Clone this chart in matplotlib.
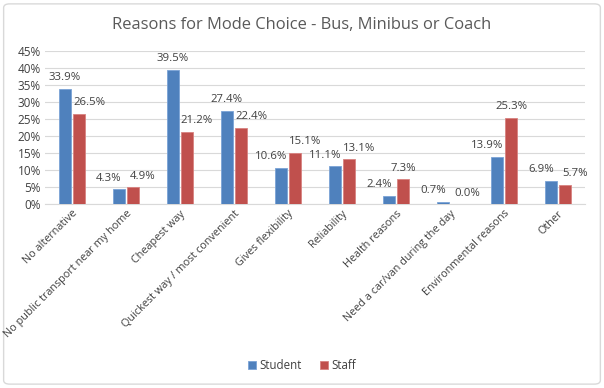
import matplotlib.pyplot as plt
import numpy as np
from matplotlib.patches import FancyBboxPatch

categories = ["No alternative", "No public transport near my home", "Cheapest way",
              "Quickest way / most convenient", "Gives flexibility", "Reliability",
              "Health reasons", "Need a car/van during the day", "Environmental reasons", "Other"]
student = [33.9, 4.3, 39.5, 27.4, 10.6, 11.1, 2.4, 0.7, 13.9, 6.9]
staff = [26.5, 4.9, 21.2, 22.4, 15.1, 13.1, 7.3, 0.0, 25.3, 5.7]

plt.rcParams['font.family'] = ['Open Sans', 'DejaVu Sans']
txt = '#404040'

fig = plt.figure(figsize=(6.04, 3.88), dpi=100)
fig.patches.append(FancyBboxPatch((0.006, 0.01), 0.988, 0.98, boxstyle="round,pad=0,rounding_size=0.01",
                                  transform=fig.transFigure, fc='white', ec='#d9d9d9', lw=1, zorder=-5))
ax = fig.add_axes([0.0745, 0.474, 0.894, 0.395])
ax.patch.set_alpha(0)

x = np.arange(len(categories))
w = 0.222
gap = 0.05
b1 = ax.bar(x - w / 2 - gap / 2, student, w, color='#4f81bd', edgecolor='#7aa3d6', lw=0.6, label='Student', zorder=3)
b2 = ax.bar(x + w / 2 + gap / 2, staff, w, color='#c0504d', edgecolor='#d88280', lw=0.6, label='Staff', zorder=3)


def label(r, dx):
    ax.annotate(f"{r.get_height():.1f}%", (r.get_x() + r.get_width() / 2, r.get_height()),
                xytext=(dx, 4), textcoords='offset points', ha='center', va='bottom',
                fontsize=8.2, color=txt)


# labels nudged sideways like Excel does when they would collide with the other bar
for r1, r2 in zip(b1, b2):
    s, t = r1.get_height(), r2.get_height()
    close = abs(s - t) < 4.7
    d1 = -7 if (s < t or close) else 0
    d2 = 7 if (t < s or close) else 0
    label(r1, d1)
    label(r2, d2)

ax.set_xlim(-0.5, len(categories) - 0.5)
ax.set_ylim(0, 45)
ax.set_yticks(range(0, 46, 5))
ax.set_yticklabels([f"{v}%" for v in range(0, 46, 5)], fontsize=8.5, color=txt)
ax.set_xticks(x)
ax.set_xticklabels(categories, rotation=45, ha='right', rotation_mode='anchor', fontsize=7.8, color=txt)
ax.tick_params(length=0, pad=3)
ax.grid(axis='y', color='#d9d9d9', lw=0.8, zorder=0)
for s in ['top', 'right', 'left']:
    ax.spines[s].set_visible(False)
ax.spines['bottom'].set_color('#d9d9d9')

fig.text(0.5, 0.935, "Reasons for Mode Choice - Bus, Minibus or Coach", ha='center', va='center',
         fontsize=11.9, color='#595959')
fig.legend(handles=[b1, b2], loc='center', bbox_to_anchor=(0.5, 0.058), ncol=2, frameon=False,
           fontsize=8.3, handlelength=0.7, handleheight=0.7, handletextpad=0.3, columnspacing=1.5,
           labelcolor=txt)

fig.savefig("out.png", dpi=100)
